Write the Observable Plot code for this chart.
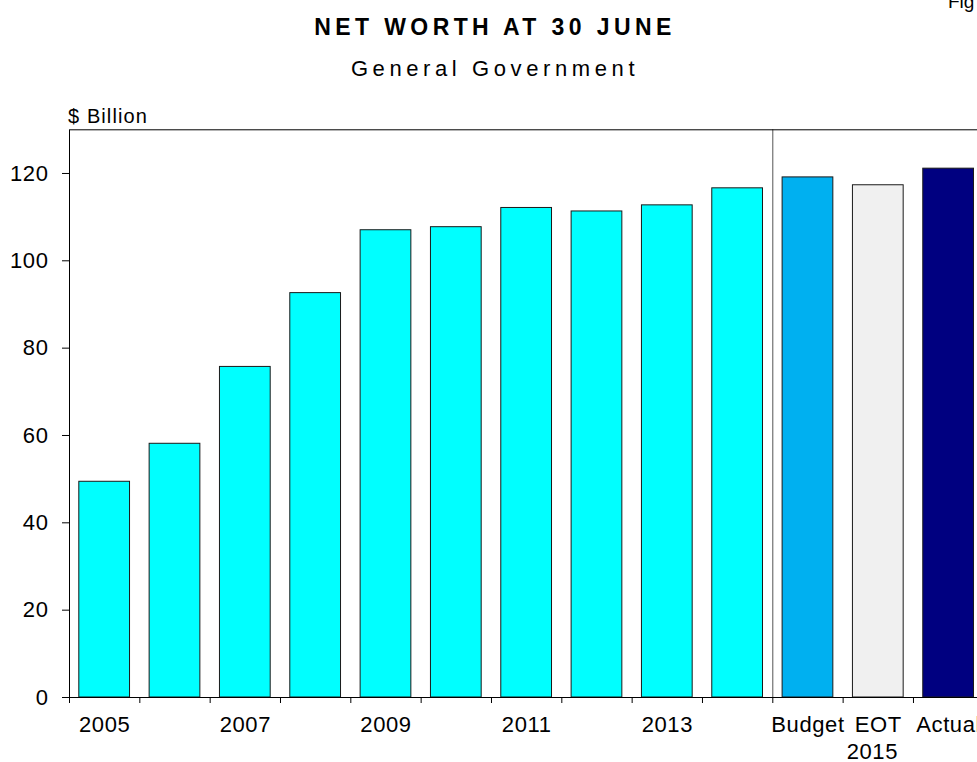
<!DOCTYPE html>
<html>
<head>
<meta charset="utf-8">
<script src="https://cdn.jsdelivr.net/npm/d3@7"></script>
<script src="https://cdn.jsdelivr.net/npm/@observablehq/plot@0.6"></script>
<style>
  html, body { margin: 0; padding: 0; background: #fff; overflow: hidden; width: 977px; height: 762px; }
  #chart svg { max-width: none !important; display: block; }
</style>
</head>
<body>
<div id="chart"></div>
<script>
// ---- data ----
const categories = ["2005","2006","2007","2008","2009","2010","2011","2012","2013","2014","Budget","EOT","Actual"];
const values = [49.4, 58.1, 75.7, 92.6, 107.0, 107.7, 112.1, 111.3, 112.7, 116.6, 119.1, 117.3, 121.1];
const tickLabels = ["2005","","2007","","2009","","2011","","2013","","Budget","EOT","Actual"];
const yearLabel = "2015";
const yTicks = [0, 20, 40, 60, 80, 100, 120];
const groupNames = ["History", "Budget", "EOT", "Actual"];
const groupColors = ["#00FFFF", "#00B0F0", "#F0F0F0", "#000080"];
const titleText = "NET WORTH AT 30 JUNE";
const subtitleText = "General Government";
const unitText = "$ Billion";
const figText = "Fig";

const data = categories.map((c, i) => ({
  i, cat: c, value: values[i],
  group: /^\d+$/.test(c) ? "History" : c,
  label: tickLabels[i]
}));
const splitIndex = categories.indexOf("Budget");
const eotIndex = categories.indexOf("EOT");

const FONT = "'Liberation Sans', Arial, Helvetica, sans-serif";

const chart = Plot.plot({
  width: 986,
  height: 762,
  marginLeft: 69,
  marginRight: 2.7,
  marginTop: 129.3,
  marginBottom: 65,
  x: {domain: [0, categories.length], axis: null},
  y: {domain: [0, 130], axis: null},
  color: {domain: groupNames, range: groupColors},
  style: {fontFamily: FONT, fontSize: "22px", color: "black", background: "white", overflow: "visible"},
  marks: [
    Plot.rectY(data, {
      x1: "i", x2: d => d.i + 1, y: "value",
      fill: "group", stroke: "#1a1a1a", strokeWidth: 1,
      insetLeft: 9.8, insetRight: 9.8
    }),
    Plot.ruleX([splitIndex], {stroke: "#555", strokeWidth: 1}),
    Plot.frame({stroke: "black", strokeWidth: 1}),
    Plot.axisY({ticks: yTicks, tickSize: 7, tickPadding: 14, label: null, fontSize: 22, stroke: "black"}),
    Plot.axisX({ticks: d3.range(categories.length + 1), tickSize: 6, tickFormat: () => "", label: null, stroke: "black"}),
    Plot.text(data, {x: d => d.i + 0.5, y: 0, text: "label", dy: 27, fontSize: 22, fill: "black"}),
    Plot.text([yearLabel], {x: eotIndex + 0.5, y: 0, text: d => d, dy: 54.5, dx: -6, fontSize: 22, fill: "black"})
  ]
});

document.getElementById("chart").appendChild(chart);

const svg = d3.select(chart);
svg.selectAll("text").style("letter-spacing", "0.6px");
svg.append("text")
  .attr("x", 495).attr("y", 35)
  .attr("text-anchor", "middle")
  .style("font-family", FONT).style("font-weight", "bold").style("font-size", "23px")
  .style("letter-spacing", "4.4px")
  .attr("fill", "black")
  .text(titleText);
svg.append("text")
  .attr("x", 495).attr("y", 76)
  .attr("text-anchor", "middle")
  .style("font-family", FONT).style("font-size", "22px")
  .style("letter-spacing", "4.6px")
  .attr("fill", "black")
  .text(subtitleText);
svg.append("text")
  .attr("x", 68).attr("y", 123)
  .attr("text-anchor", "start")
  .style("font-family", FONT).style("font-size", "20px")
  .style("letter-spacing", "1.1px")
  .attr("fill", "black")
  .text(unitText);
svg.append("text")
  .attr("x", 948).attr("y", 8)
  .attr("text-anchor", "start")
  .style("font-family", FONT).style("font-size", "19px")
  .attr("fill", "black")
  .text(figText);
</script>
</body>
</html>
